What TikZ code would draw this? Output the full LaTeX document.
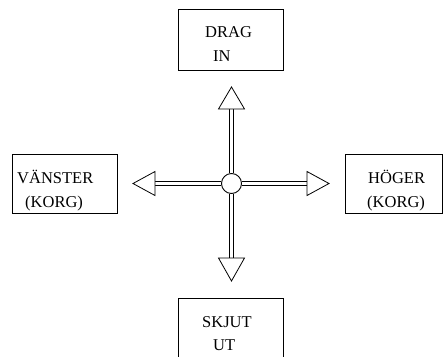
\documentclass[tikz,border=0pt]{standalone}
\usepackage{fontspec}
\setmainfont{Liberation Serif}
\begin{document}
\begin{tikzpicture}[x=1pt,y=-1pt,
  box/.style={draw, line width=0.9pt, inner sep=0pt},
  lbl/.style={anchor=base west, inner sep=0pt, font=\fontsize{16.5}{18}\selectfont},
  shaft/.style={draw, line width=0.8pt, double distance=3.4pt},
  head/.style={draw, line width=0.8pt, fill=white, line join=miter}]
\useasboundingbox (0,0) rectangle (444,356);
\clip (0,0) rectangle (444,356);
\fill[white] (0,0) rectangle (444,356);
% boxes
\node[box, minimum width=105pt, minimum height=61pt] (topbox) at (230.5,39.5) {};
\node[box, minimum width=105pt, minimum height=59pt] (leftbox) at (64.5,183.5) {};
\node[box, minimum width=97pt, minimum height=59pt] (rightbox) at (393.5,183.5) {};
\node[box, minimum width=105pt, minimum height=72pt] (botbox) at (230.5,334) {};
% labels
\node[lbl] (t1) at (205,37) {DRAG};
\node[lbl] (t2) at (213,61) {IN};
\node[lbl] (l1) at (17,183) {VÄNSTER};
\node[lbl] (l2) at (25,207) {(KORG)};
\node[lbl] (r1) at (368,183) {HÖGER};
\node[lbl] (r2) at (367,207) {(KORG)};
\node[lbl] (b1) at (202,327) {SKJUT};
\node[lbl] (b2) at (213,350) {UT};
% arrows
\coordinate (ub) at (231.5,109); \coordinate (ut) at (231.5,87);
\coordinate (db) at (231.5,258); \coordinate (dt) at (231.5,281);
\coordinate (lb) at (155,183.5); \coordinate (lt) at (133,183.5);
\coordinate (rb) at (307,183.5); \coordinate (rt) at (329,183.5);
\node[draw, circle, line width=0.9pt, fill=white, minimum size=20pt, inner sep=0pt] (c) at (231.5,183.5) {};
\path[shaft] (c) -- (ub);
\path[shaft] (c) -- (db);
\path[shaft] (c) -- (lb);
\path[shaft] (c) -- (rb);
\path[head] ([xshift=-13pt]ub) -- (ut) -- ([xshift=13pt]ub) -- cycle;
\path[head] ([xshift=-13pt]db) -- (dt) -- ([xshift=13pt]db) -- cycle;
\path[head] ([yshift=-12pt]lb) -- (lt) -- ([yshift=12pt]lb) -- cycle;
\path[head] ([yshift=-12pt]rb) -- (rt) -- ([yshift=12pt]rb) -- cycle;
\end{tikzpicture}
\end{document}
